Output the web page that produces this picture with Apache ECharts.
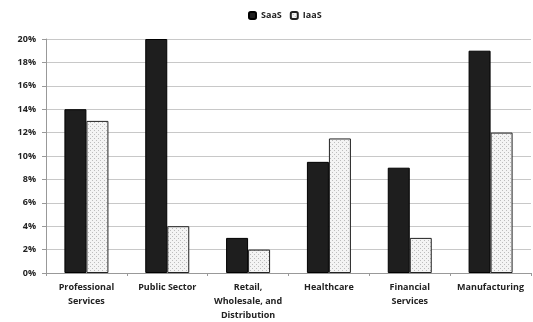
<!DOCTYPE html>
<html>
<head>
<meta charset="utf-8">
<script src="https://cdn.jsdelivr.net/npm/echarts@6/dist/echarts.min.js"></script>
<style>
  html, body { margin: 0; padding: 0; background: #fff; }
  #chart { width: 533px; height: 322px; }
</style>
</head>
<body>
<div id="chart"></div>
<script>
const categories = [
  "Professional\nServices",
  "Public Sector",
  "Retail,\nWholesale, and\nDistribution",
  "Healthcare",
  "Financial\nServices",
  "Manufacturing"
];
const saasValues = [14, 20, 3, 9.5, 9, 19];
const iaasValues = [13, 4, 2, 11.5, 3, 12];

// small dotted pattern for the IaaS bars
function makePattern() {
  const c = document.createElement("canvas");
  c.width = 4;
  c.height = 4;
  const ctx = c.getContext("2d");
  ctx.fillStyle = "#f4f4f4";
  ctx.fillRect(0, 0, 4, 4);
  ctx.fillStyle = "#bdbdbd";
  ctx.fillRect(0, 0, 1, 1);
  ctx.fillRect(2, 2, 1, 1);
  return c;
}
const pattern = { image: makePattern(), repeat: "repeat" };

const font = "'Open Sans', 'Liberation Sans', sans-serif";
const chart = echarts.init(document.getElementById("chart"));
chart.setOption({
  animation: false,
  textStyle: { fontFamily: font },
  legend: {
    top: 6,
    left: 243,
    itemWidth: 7,
    itemHeight: 7,
    itemGap: 8,
    textStyle: { fontSize: 9, fontWeight: "bold", color: "#222" },
    data: ["SaaS", "IaaS"]
  },
  grid: { left: 46, right: 2, top: 39, bottom: 43, containLabel: false },
  xAxis: {
    type: "category",
    data: categories,
    axisLine: { lineStyle: { color: "#999" } },
    axisTick: { show: true, length: 3, lineStyle: { color: "#999" } },
    axisLabel: {
      interval: 0,
      fontSize: 9,
      fontWeight: "bold",
      color: "#222",
      lineHeight: 14,
      margin: 7
    }
  },
  yAxis: {
    type: "value",
    min: 0,
    max: 20,
    interval: 2,
    axisLine: { show: true, lineStyle: { color: "#999" } },
    axisTick: { show: true, length: 4, lineStyle: { color: "#999" } },
    splitLine: { lineStyle: { color: "#c8c8c8" } },
    axisLabel: {
      formatter: "{value}%",
      fontSize: 9,
      fontWeight: "bold",
      color: "#222",
      margin: 10
    }
  },
  series: [
    {
      name: "SaaS",
      type: "bar",
      data: saasValues,
      barWidth: 22,
      barGap: "0%",
      itemStyle: { color: "#1e1e1e", borderColor: "#000", borderWidth: 1 }
    },
    {
      name: "IaaS",
      type: "bar",
      data: iaasValues,
      barWidth: 22,
      itemStyle: { color: pattern, borderColor: "#222", borderWidth: 1 }
    }
  ]
});
</script>
</body>
</html>
